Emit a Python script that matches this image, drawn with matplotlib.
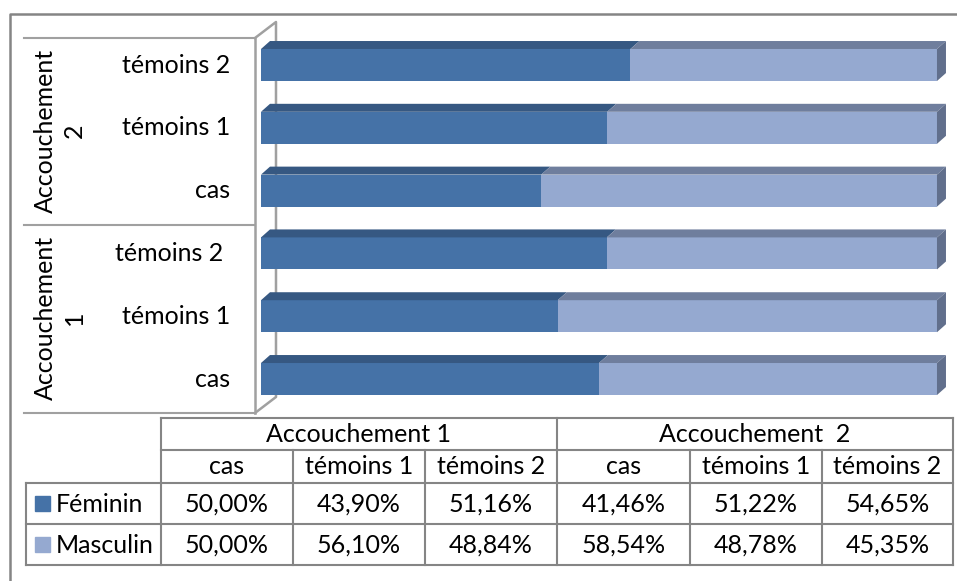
import matplotlib
matplotlib.use('Agg')
import matplotlib.pyplot as plt
from matplotlib.patches import Polygon

plt.rcParams['font.family'] = ['Lato', 'DejaVu Sans']

# data
groupes = ['Accouchement 1', 'Accouchement  2']
categories = ['cas', 'témoins 1', 'témoins 2']
feminin = [50.00, 43.90, 51.16, 41.46, 51.22, 54.65]
masculin = [50.00, 56.10, 48.84, 58.54, 48.78, 45.35]
series = ['Féminin', 'Masculin']

W, H = 957, 581
fig = plt.figure(figsize=(W / 100, H / 100), dpi=100)
fs = 18
grey = '#858585'


def fx(x):
    return x / W


def fy(y):
    return 1 - y / H


def fline(xs, ys, **kw):
    fig.add_artist(plt.Line2D([fx(v) for v in xs], [fy(v) for v in ys],
                              color=kw.pop('color', grey), lw=kw.pop('lw', 1.5), **kw))


# outer frame
fline([10, 10, 957], [581, 14, 14], lw=1.8)

# bars (3D look)
ax = fig.add_axes([fx(255), fy(413), (948 - 255) / W, (413 - 38) / H])
ax.set_xlim(-0.888, 101.63)
ax.set_ylim(-0.541, 5.43)
ax.axis('off')

c_front = ['#4572a7', '#95a9d0']
c_top = ['#365882', '#6f7e9d']
c_side = '#616f8c'
h = 0.51
dx, dy = 1.33, 0.127
ypos = list(range(len(feminin)))

# wall (back part behind bars)
ax.plot([0, 0.0303, 0.0303, 0], [1, 1.0427, 0.0427, 0], transform=ax.transAxes,
        color='#a0a0a0', lw=1.8, clip_on=False, zorder=0)

lefts = [0] * len(feminin)
for k, vals in enumerate([feminin, masculin]):
    ax.barh(ypos, vals, left=lefts, height=h, color=c_front[k], zorder=2)
    for y, l, v in zip(ypos, lefts, vals):
        top = y + h / 2
        ax.add_patch(Polygon([(l, top), (l + v, top), (l + v + dx, top + dy), (l + dx, top + dy)],
                             closed=True, facecolor=c_top[k], edgecolor='none', zorder=2,
                             clip_on=False))
    lefts = [l + v for l, v in zip(lefts, vals)]

for y, l in zip(ypos, lefts):
    ax.add_patch(Polygon([(l, y - h / 2), (l, y + h / 2), (l + dx, y + h / 2 + dy), (l + dx, y - h / 2 + dy)],
                         closed=True, facecolor=c_side, edgecolor='none', zorder=2, clip_on=False))

# front wall line
ax.plot([0, 0], [0, 1], transform=ax.transAxes, color='#a0a0a0', lw=1.8, clip_on=False, zorder=3)

# category axis labels
for y in ypos:
    lab = categories[y % 3]
    if y == 2:
        lab = lab + ' '
    ax.text(-0.888 - 25 / 6.76, y, lab, ha='right', va='center', fontsize=fs)

fline([24, 255], [38, 38], color='#a0a0a0')
fline([24, 255], [225, 225], color='#a0a0a0')
fline([24, 255], [413, 413], color='#a0a0a0')
for g, yc in zip(['Accouchement\n1', 'Accouchement\n2'], [318, 131]):
    fig.text(fx(60), fy(yc), g, rotation=90, ha='center', va='center',
             multialignment='center', fontsize=fs, linespacing=1.35)

# data table
cols = [161, 293, 425, 557, 690, 822, 953]
rows = [418, 450, 483, 524, 565]
fline([161, 953], [418, 418])
fline([161, 953], [450, 450])
for r in rows[2:]:
    fline([26, 953], [r, r])
for c in [161, 557, 953]:
    fline([c, c], [418, 565])
for c in [293, 425, 690, 822]:
    fline([c, c], [450, 565])
fline([26, 26], [483, 565])

for i, g in enumerate(groupes):
    fig.text(fx((cols[3 * i] + cols[3 * i + 3]) / 2), fy(435), g, ha='center', va='center', fontsize=fs)
for j in range(6):
    xc = fx((cols[j] + cols[j + 1]) / 2)
    fig.text(xc, fy(467), categories[j % 3], ha='center', va='center', fontsize=fs)
    for k, vals in enumerate([feminin, masculin]):
        yc = (rows[2 + k] + rows[3 + k]) / 2
        fig.text(xc, fy(yc + 1), f'{vals[j]:.2f}%'.replace('.', ','), ha='center', va='center', fontsize=fs)

for k, s in enumerate(series):
    yc = (rows[2 + k] + rows[3 + k]) / 2
    fig.add_artist(plt.Rectangle((fx(35), fy(yc + 7.5)), 15 / W, 15 / H, color=c_front[k]))
    fig.text(fx(56), fy(yc + 1), s, ha='left', va='center', fontsize=fs)

fig.savefig('out.png', dpi=100)
